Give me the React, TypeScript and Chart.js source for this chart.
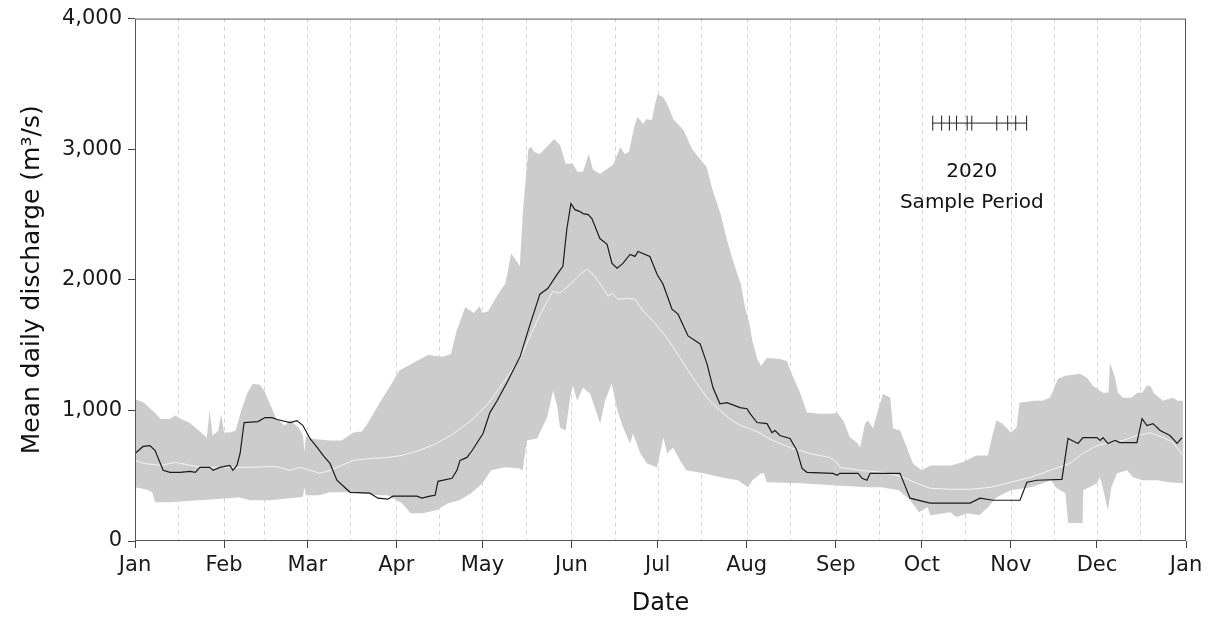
import React, { useEffect, useRef } from 'react';
import { Chart, registerables } from 'chart.js';

Chart.register(...registerables);

// ---- Axis definitions (day of year, 2020 leap year) ----
const MONTH_DAYS = [0, 31, 60, 91, 121, 152, 182, 213, 244, 274, 305, 335, 366];
const MONTH_LABELS = ['Jan', 'Feb', 'Mar', 'Apr', 'May', 'Jun', 'Jul', 'Aug', 'Sep', 'Oct', 'Nov', 'Dec', 'Jan'];
const MID_MONTH_DAYS = [15, 45, 75, 106, 136, 167, 197, 228, 259, 289, 320, 350];
const Y_TICKS = [0, 1000, 2000, 3000, 4000];

// ---- Historical maximum envelope ----
const UPPER_DAYS = [0, 3, 7, 9, 12, 14, 16, 19, 23, 25, 26, 27, 29, 30, 31, 33, 35, 37, 39, 41, 43.5, 45, 47, 49, 52, 54, 57, 58.5, 59, 59.5, 61, 64, 68, 72, 76, 79, 81, 85, 89, 92, 97, 102, 107, 110, 112, 115, 118, 120, 121, 123, 126, 129, 131, 133, 134, 135, 137, 138, 139, 141, 144, 146, 148, 150, 152.5, 154, 156, 158, 159.5, 162, 164, 166.5, 169, 170.5, 172, 174, 175, 177, 178, 180, 181, 182, 184, 185.5, 187.5, 191, 194, 197.5, 199, 201, 204, 206, 208, 211, 212.5, 214, 215, 216.6, 218, 220, 224.6, 227, 229, 231.6, 234, 238.5, 243, 244.5, 246.6, 249, 251.4, 252.5, 254.2, 255.3, 257, 258.4, 260.5, 263, 264, 266.4, 268.8, 270.9, 274, 277, 284, 288, 293, 297, 298.4, 300, 302, 305, 307, 308, 313, 316, 318.6, 320, 321.4, 324, 329, 331.5, 333.6, 337, 339, 339.5, 341.3, 342.3, 344, 347, 349, 350.7, 352.4, 353.5, 355, 358, 360, 361.5, 363, 365];
const UPPER_VALUES = [1085, 1060, 980, 935, 935, 960, 935, 905, 830, 790, 1000, 808, 845, 975, 830, 830, 845, 1000, 1128, 1204, 1196, 1150, 1050, 945, 884, 920, 870, 808, 680, 800, 785, 777, 770, 770, 830, 838, 900, 1050, 1190, 1303, 1364, 1425, 1410, 1432, 1608, 1790, 1745, 1798, 1745, 1760, 1874, 1973, 2202, 2141, 2103, 2499, 3002, 3017, 2979, 2964, 3032, 3078, 3032, 2888, 2888, 2827, 2827, 2964, 2842, 2811, 2842, 2880, 3017, 2964, 2979, 3185, 3246, 3192, 3230, 3223, 3337, 3421, 3398, 3337, 3230, 3147, 3002, 2903, 2865, 2697, 2499, 2316, 2164, 1966, 1783, 1661, 1531, 1402, 1340, 1402, 1394, 1379, 1265, 1135, 983, 975, 975, 983, 922, 792, 754, 716, 899, 922, 861, 975, 1128, 1097, 861, 846, 716, 594, 541, 579, 579, 602, 655, 655, 792, 922, 899, 830, 869, 1059, 1074, 1074, 1097, 1166, 1242, 1265, 1280, 1250, 1189, 1135, 1135, 1364, 1250, 1135, 1097, 1097, 1135, 1135, 1189, 1189, 1128, 1074, 1090, 1097, 1074, 1074];

// ---- Historical minimum envelope ----
const LOWER_DAYS = [0, 4, 6, 7, 12, 22, 33, 36, 40, 47, 54, 57.5, 58.5, 59, 59.5, 61, 64, 68, 75, 79, 85, 88, 93, 96, 100, 105, 109, 113, 117, 121, 124, 129, 134, 135, 136.5, 140, 143.5, 145.6, 147, 148, 150, 151.5, 152.5, 154, 156, 158.5, 162, 163.7, 166, 168, 170, 172.4, 173.4, 176, 178.3, 181.8, 184, 185.3, 187.4, 189.8, 192, 198, 204, 210, 213.5, 215, 218, 219, 220, 232, 243, 255, 260, 266, 270, 273, 276, 277, 284, 286, 290, 294, 297, 300, 305, 312, 319, 321, 324, 325, 330, 330.2, 335, 336, 337, 338.8, 340, 342, 345.5, 347.5, 351, 356, 360, 365];
const LOWER_VALUES = [411, 395, 373, 297, 297, 312, 328, 335, 312, 312, 328, 335, 340, 411, 350, 350, 350, 373, 373, 366, 350, 350, 290, 213, 213, 236, 290, 312, 366, 442, 541, 564, 556, 541, 770, 785, 945, 1150, 1036, 869, 846, 1097, 1189, 1074, 1173, 1128, 899, 1074, 1204, 998, 869, 747, 823, 670, 594, 564, 792, 670, 716, 617, 541, 518, 488, 465, 411, 465, 518, 518, 450, 442, 427, 411, 411, 388, 312, 221, 259, 198, 221, 183, 213, 198, 259, 335, 388, 411, 465, 404, 366, 137, 137, 388, 442, 488, 411, 236, 411, 518, 541, 488, 465, 465, 450, 442];

// ---- Median daily discharge ----
const MEDIAN_DAYS = [0, 3, 9, 14, 23, 30, 40, 49, 54, 57.5, 64.4, 68, 76, 82, 88, 93, 99, 105, 111, 117, 123, 128, 134, 140, 143.5, 145.6, 148, 151.5, 155, 157.4, 159.5, 162.6, 164.7, 166.1, 168.2, 171.3, 174.1, 177, 180.4, 185.3, 189.8, 194.3, 199.2, 203.7, 208, 211, 214, 218, 221, 228, 235, 242, 244.5, 245.5, 252.5, 260.5, 267.4, 272.3, 277, 284, 291, 298, 305, 312, 318.6, 325.6, 330, 335, 339.5, 344, 349, 353.5, 358, 361.5, 365];
const MEDIAN_VALUES = [617, 594, 579, 602, 564, 564, 564, 571, 541, 564, 518, 541, 617, 632, 640, 655, 693, 747, 823, 922, 1051, 1204, 1394, 1684, 1836, 1912, 1897, 1966, 2042, 2080, 2042, 1950, 1874, 1897, 1851, 1859, 1851, 1760, 1684, 1554, 1402, 1250, 1097, 998, 922, 884, 861, 823, 780, 716, 670, 640, 600, 564, 541, 526, 488, 442, 404, 396, 396, 411, 450, 488, 541, 594, 670, 731, 754, 770, 808, 830, 792, 754, 655];

// ---- 2020 mean daily discharge ----
const Y2020_DAYS = [0, 2.8, 5.2, 7, 9.8, 12.2, 15.7, 19.2, 21, 22.6, 26, 27.2, 29.6, 33, 34.1, 35.5, 36.6, 38, 42.8, 45.3, 47.7, 49.5, 54, 56.4, 58.5, 60.9, 63.7, 65.5, 67.9, 70.3, 74.9, 81.8, 84.6, 88.1, 89.8, 98.2, 99.9, 102.7, 104.5, 105.5, 110.4, 112.1, 113.2, 115.6, 117.4, 121.2, 123.6, 126.1, 129.5, 131.6, 134.1, 137.6, 141, 143.8, 147, 149, 150.4, 151.8, 153.2, 155, 156, 157.8, 159.1, 161.9, 164.4, 166.1, 167.9, 169.9, 172.4, 174.1, 175.2, 179.3, 181.8, 183.9, 187, 189.1, 192.6, 196.8, 199.2, 201.3, 203.7, 206.2, 210.7, 213.1, 214.2, 216.6, 220.1, 221.8, 222.9, 224.6, 228.1, 230.5, 232.3, 234, 243.1, 244.5, 245.5, 251.8, 253.2, 254.9, 256, 266.4, 269.9, 276.9, 290.8, 294.3, 298.8, 308.2, 310.6, 314.1, 322.8, 324.9, 328.4, 330.1, 335, 336.1, 337.1, 338.8, 341.3, 343, 348.9, 350.7, 352.4, 354.5, 357, 360.4, 362.9, 364.6];
const Y2020_VALUES = [670, 724, 731, 693, 541, 526, 526, 533, 526, 564, 564, 541, 564, 579, 541, 579, 670, 907, 914, 945, 945, 930, 907, 922, 884, 785, 709, 655, 594, 465, 373, 366, 328, 320, 343, 343, 328, 343, 350, 457, 480, 541, 617, 640, 693, 823, 983, 1074, 1211, 1303, 1410, 1661, 1890, 1935, 2042, 2103, 2393, 2583, 2537, 2522, 2507, 2499, 2469, 2316, 2271, 2126, 2088, 2126, 2194, 2179, 2217, 2179, 2042, 1966, 1775, 1737, 1570, 1509, 1356, 1173, 1051, 1059, 1021, 1013, 975, 907, 899, 830, 846, 808, 785, 693, 556, 526, 518, 503, 518, 518, 480, 465, 518, 518, 328, 290, 290, 328, 312, 312, 450, 465, 472, 785, 747, 792, 792, 770, 792, 747, 770, 754, 754, 937, 884, 899, 846, 808, 747, 792];

// ---- 2020 sample period markers ----
const SAMPLE_DAYS = [277.8, 280.9, 283.6, 286.1, 289.8, 291.4, 300.1, 303.9, 306.7, 310.5];
const SAMPLE_LEVEL = 3200;
const SAMPLE_TEXT = ['2020', 'Sample Period'];
const SAMPLE_TEXT_DAY = 291.4;
const SAMPLE_TEXT_LEVELS = [2827, 2590];

const FONT = '"DejaVu Sans", "Liberation Sans", Arial, sans-serif';

const zip = (xs: number[], ys: number[]) => xs.map((x, i) => ({ x, y: ys[i] }));

const decorPlugin = {
  id: 'decor',
  beforeDatasetsDraw(chart: any) {
    const { ctx, chartArea, scales } = chart;
    const xs = scales.x;
    ctx.save();
    ctx.strokeStyle = '#d4d4d4';
    ctx.lineWidth = 1;
    ctx.setLineDash([4, 4]);
    const lines = [...MONTH_DAYS.slice(1, -1), ...MID_MONTH_DAYS];
    for (const d of lines) {
      const px = Math.round(xs.getPixelForValue(d)) + 0.5;
      ctx.beginPath();
      ctx.moveTo(px, chartArea.top);
      ctx.lineTo(px, chartArea.bottom);
      ctx.stroke();
    }
    ctx.restore();
  },
  afterDatasetsDraw(chart: any) {
    const { ctx, chartArea, scales } = chart;
    ctx.save();
    ctx.strokeStyle = '#555555';
    ctx.lineWidth = 1;
    ctx.strokeRect(chartArea.left + 0.5, chartArea.top + 0.5, chartArea.right - chartArea.left - 1, chartArea.bottom - chartArea.top - 1);
    ctx.fillStyle = '#111111';
    ctx.font = `20px ${FONT}`;
    ctx.textAlign = 'center';
    ctx.textBaseline = 'middle';
    const tx = scales.x.getPixelForValue(SAMPLE_TEXT_DAY);
    SAMPLE_TEXT.forEach((t, i) => {
      ctx.fillText(t, tx, scales.y.getPixelForValue(SAMPLE_TEXT_LEVELS[i]));
    });
    ctx.restore();
  },
};

export default function App() {
  const ref = useRef<HTMLCanvasElement | null>(null);

  useEffect(() => {
    if (!ref.current) return;
    const tickFont = { family: FONT, size: 21 };
    const chart = new Chart(ref.current, {
      type: 'line',
      data: {
        datasets: [
          {
            label: 'Max',
            data: zip(UPPER_DAYS, UPPER_VALUES),
            borderWidth: 0,
            borderColor: 'rgba(0,0,0,0)',
            backgroundColor: '#cccccc',
            pointRadius: 0,
            fill: '+1',
            order: 10,
            tension: 0,
          },
          {
            label: 'Min',
            data: zip(LOWER_DAYS, LOWER_VALUES),
            borderWidth: 0,
            borderColor: 'rgba(0,0,0,0)',
            pointRadius: 0,
            fill: false,
            order: 9,
          },
          {
            label: 'Median',
            data: zip(MEDIAN_DAYS, MEDIAN_VALUES),
            borderWidth: 1,
            borderColor: '#f4f4f4',
            pointRadius: 0,
            fill: false,
            order: 2,
          },
          {
            label: '2020',
            data: zip(Y2020_DAYS, Y2020_VALUES),
            borderWidth: 1.2,
            borderColor: '#1a1a1a',
            pointRadius: 0,
            fill: false,
            order: 1,
          },
          {
            label: 'Sample span',
            data: [
              { x: SAMPLE_DAYS[0], y: SAMPLE_LEVEL },
              { x: SAMPLE_DAYS[SAMPLE_DAYS.length - 1], y: SAMPLE_LEVEL },
            ],
            borderWidth: 1,
            borderColor: '#222222',
            pointRadius: 0,
            fill: false,
            order: 0,
          },
          {
            label: 'Samples',
            data: SAMPLE_DAYS.map((d) => ({ x: d, y: SAMPLE_LEVEL })),
            showLine: false,
            pointStyle: 'line',
            rotation: 90,
            pointRadius: 7.5,
            pointBorderWidth: 1,
            pointBorderColor: '#222222',
            borderColor: '#222222',
            fill: false,
            order: 0,
          } as any,
        ],
      },
      options: {
        animation: false,
        responsive: false,
        devicePixelRatio: 1,
        layout: { padding: { top: 16, right: 28, left: 0, bottom: 0 } },
        plugins: {
          legend: { display: false },
          tooltip: { enabled: false },
        },
        scales: {
          x: {
            type: 'linear',
            min: 0,
            max: 366,
            afterBuildTicks: (s: any) => {
              s.ticks = MONTH_DAYS.map((v) => ({ value: v }));
            },
            afterFit: (s: any) => {
              s.height = 78;
            },
            ticks: {
              autoSkip: false,
              maxRotation: 0,
              minRotation: 0,
              padding: 5,
              color: '#1a1a1a',
              font: tickFont,
              callback: (v: any) => {
                const i = MONTH_DAYS.indexOf(Number(v));
                return i >= 0 ? MONTH_LABELS[i] : '';
              },
            },
            grid: { drawOnChartArea: false, drawTicks: true, tickLength: 7, color: '#444444' },
            border: { display: false },
            title: {
              display: true,
              text: 'Date',
              color: '#111111',
              font: { family: FONT, size: 24 },
              padding: { top: 0, bottom: 1 },
            },
          },
          y: {
            min: 0,
            max: 4000,
            afterBuildTicks: (s: any) => {
              s.ticks = Y_TICKS.map((v) => ({ value: v }));
            },
            afterFit: (s: any) => {
              s.width = 135;
            },
            ticks: {
              padding: 6,
              color: '#1a1a1a',
              font: tickFont,
              callback: (v: any) => Number(v).toLocaleString('en-US'),
            },
            grid: { drawOnChartArea: false, drawTicks: true, tickLength: 7, color: '#444444' },
            border: { display: false },
            title: {
              display: true,
              text: 'Mean daily discharge (m³/s)',
              color: '#111111',
              font: { family: FONT, size: 25 },
              padding: { top: 17, bottom: 0 },
            },
          },
        },
      },
      plugins: [decorPlugin],
    });
    return () => chart.destroy();
  }, []);

  return (
    <div style={{ position: 'absolute', left: 0, top: 0, width: 1214, height: 619, background: '#ffffff' }}>
      <canvas ref={ref} width={1214} height={619} style={{ display: 'block', width: 1214, height: 619 }} />
    </div>
  );
}
